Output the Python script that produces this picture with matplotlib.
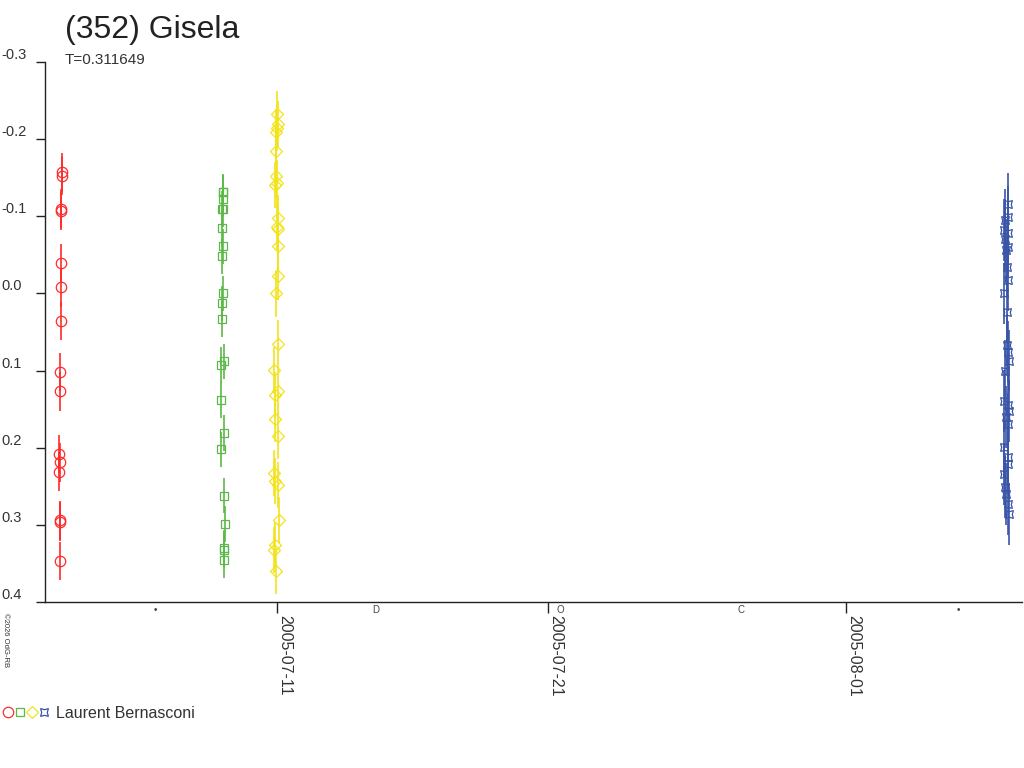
import matplotlib
matplotlib.use("Agg")
import matplotlib.pyplot as plt
import matplotlib.dates as mdates
import matplotlib.transforms as mtransforms
from matplotlib.lines import Line2D
from matplotlib.legend_handler import HandlerTuple

plt.rcParams["font.family"] = ["Liberation Sans", "DejaVu Sans"]

JD_EPOCH = 2440587.5  # JD of 1970-01-01 (matplotlib date epoch)

title = "(352) Gisela"
period_text = "T=0.311649"
observer = "Laurent Bernasconi"
credit = "\u00a92026 OdG-RB"

# session 1 (red circles)
red_jd = [2453554.554, 2453554.576, 2453554.539, 2453554.539, 2453554.528,
          2453554.528, 2453554.517, 2453554.502, 2453554.502, 2453554.465,
          2453554.502, 2453554.465, 2453554.480, 2453554.491, 2453554.491]
red_mag = [-0.157, -0.152, -0.110, -0.107, -0.039, -0.008, 0.036, 0.102,
           0.127, 0.208, 0.219, 0.231, 0.294, 0.296, 0.347]
red_err = 0.025

# session 2 (green squares)
green_jd = [2453560.496, 2453560.518, 2453560.507, 2453560.481, 2453560.507,
            2453560.470, 2453560.496, 2453560.470, 2453560.496, 2453560.470,
            2453560.459, 2453560.533, 2453560.433, 2453560.433, 2453560.533,
            2453560.433, 2453560.533, 2453560.570, 2453560.533, 2453560.544,
            2453560.555]
green_mag = [-0.132, -0.131, -0.123, -0.110, -0.109, -0.085, -0.061, -0.048,
             0.000, 0.013, 0.033, 0.088, 0.093, 0.138, 0.181, 0.202, 0.262,
             0.299, 0.330, 0.332, 0.346]
green_err = 0.023

# session 3 (yellow diamonds)
yellow_jd = [2453562.500, 2453562.526, 2453562.489, 2453562.463, 2453562.463,
             2453562.463, 2453562.489, 2453562.426, 2453562.526, 2453562.489,
             2453562.548, 2453562.548, 2453562.548, 2453562.452, 2453562.548,
             2453562.400, 2453562.548, 2453562.426, 2453562.437, 2453562.548,
             2453562.389, 2453562.426, 2453562.548, 2453562.585, 2453562.426,
             2453562.400, 2453562.452]
yellow_mag = [-0.232, -0.220, -0.214, -0.209, -0.184, -0.152, -0.143, -0.141,
              -0.098, -0.086, -0.084, -0.061, -0.022, 0.000, 0.065, 0.099,
              0.126, 0.132, 0.163, 0.185, 0.233, 0.243, 0.248, 0.294, 0.326,
              0.333, 0.360]
yellow_err = 0.03

# session 4 (blue stars)
blue_jd = [2453589.468, 2453589.479, 2453589.368, 2453589.331, 2453589.479,
           2453589.368, 2453589.479, 2453589.405, 2453589.442, 2453589.468,
           2453589.331, 2453589.431, 2453589.442, 2453589.490, 2453589.516,
           2453589.368, 2453589.331, 2453589.479, 2453589.516, 2453589.405,
           2453589.490, 2453589.331, 2453589.468, 2453589.479, 2453589.331,
           2453589.368, 2453589.405, 2453589.490, 2453589.516]
blue_mag = [-0.116, -0.099, -0.095, -0.082, -0.078, -0.071, -0.060, -0.056,
            -0.034, -0.017, 0.000, 0.024, 0.067, 0.076, 0.087, 0.100, 0.139,
            0.145, 0.152, 0.160, 0.169, 0.199, 0.212, 0.221, 0.234, 0.251,
            0.260, 0.273, 0.286]
blue_err = 0.04

# moon phases (new, first quarter, full, last quarter, new)
moon_dates = ["2005-07-06 12:02", "2005-07-14 15:20", "2005-07-21 11:00",
              "2005-07-28 03:19", "2005-08-05 03:05"]
moon_glyphs = ["\u2022", "D", "O", "C", "\u2022"]

tick_dates = ["2005-07-11", "2005-07-21", "2005-08-01"]
x_range = ["2005-07-02 10:30", "2005-08-07 11:55"]
y_ticks = [-0.3, -0.2, -0.1, 0.0, 0.1, 0.2, 0.3, 0.4]

series = [
    (red_jd, red_mag, red_err, "o", "#ff2a2a", 7.5),
    (green_jd, green_mag, green_err, "s", "#5cb848", 5.5),
    (yellow_jd, yellow_mag, yellow_err, "D", "#f2e31a", 6.5),
    (blue_jd, blue_mag, blue_err, (4, 1, 45), "#3a55a8", 8),
]

fig = plt.figure(figsize=(10.24, 7.68), dpi=100)
ax = fig.add_axes([45 / 1024, 166 / 768, 977 / 1024, 540 / 768])

handles = []
for jd, mag, err, marker, color, ms in series:
    x = [j - JD_EPOCH for j in jd]
    ax.errorbar(x, mag, yerr=err, fmt="none", ecolor=color, elinewidth=1.2,
                capsize=0, zorder=2)
    ax.plot(x, mag, ls="none", marker=marker, ms=ms, mfc="none", mec=color,
            mew=0.9, zorder=3)
    handles.append(Line2D([], [], ls="none", marker=marker, ms=ms,
                          mfc="none", mec=color, mew=0.9))

ax.set_xlim(mdates.datestr2num(x_range))
ax.set_ylim(0.4, -0.3)

for side in ["top", "right"]:
    ax.spines[side].set_visible(False)
for side in ["left", "bottom"]:
    ax.spines[side].set_color("#222222")
    ax.spines[side].set_linewidth(1.0)

# y labels sit above their tick, flush with the left edge of the figure
ax.set_yticks(y_ticks)
ax.set_yticklabels([f"{v:.1f}" for v in y_ticks])
ax.tick_params(axis="y", length=6.5, width=1, color="#222222", pad=25,
               labelsize=10.5, labelcolor="#333333")
for lab in ax.get_yticklabels():
    lab.set_va("bottom")
    lab.set_ha("left")

ax.set_xticks(mdates.datestr2num(tick_dates))
ax.set_xticklabels(tick_dates)
ax.tick_params(axis="x", length=8, width=1, color="#222222", pad=1.5,
               labelsize=11.5, labelcolor="#333333")
for lab in ax.get_xticklabels():
    lab.set_rotation(270)
    lab.set_ha("left")

trans = mtransforms.blended_transform_factory(ax.transData, ax.transAxes)
for d, g in zip(mdates.datestr2num(moon_dates), moon_glyphs):
    ax.text(d, -0.006, g, transform=trans, fontsize=7, ha="center", va="top",
            color="#444444")

fig.text(65 / 1024, 1 - 38 / 768, title, fontsize=23, color="#222222",
         va="baseline", ha="left")
fig.text(65 / 1024, 1 - 64 / 768, period_text, fontsize=11, color="#333333",
         va="baseline", ha="left")
fig.text(2 / 1024, 1 - 613 / 768, credit, fontsize=5.5, rotation=270,
         ha="left", va="top", color="#333333")

fig.legend([tuple(handles)], [observer],
           handler_map={tuple: HandlerTuple(ndivide=None, pad=0.1)},
           loc="center left", bbox_to_anchor=(3 / 1024, 1 - 713 / 768),
           frameon=False, borderpad=0, borderaxespad=0, handlelength=2.9,
           handletextpad=0.4, fontsize=11.5, labelcolor="#333333")

fig.savefig("out.png", dpi=100)
